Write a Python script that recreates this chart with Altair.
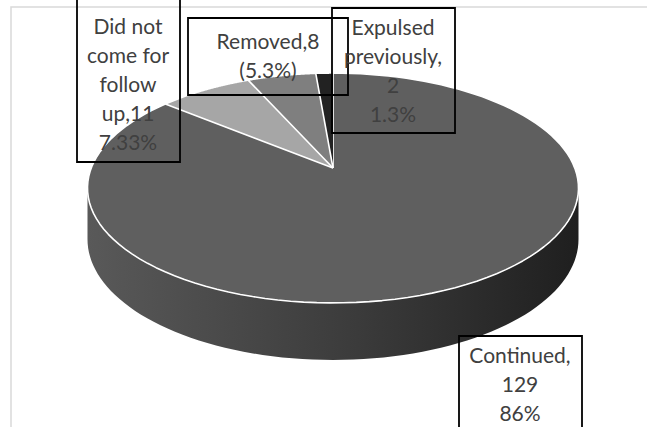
import altair as alt
import pandas as pd

# ---- data ----
categories = ["Continued", "Did not come for follow up", "Removed", "Expulsed previously"]
counts = [129, 11, 8, 2]
label_text = [
    "Continued,\n129\n86%",
    "Did not\ncome for\nfollow\nup,11\n7.33%",
    "Removed,8\n(5.3%)",
    "Expulsed\npreviously,\n2\n1.3%",
]

# ---- style / layout ----
top_colors = ["#5f5f5f", "#a6a6a6", "#7f7f7f", "#222222"]
W, H = 647, 427
CX, CY = 333, 168          # pixel position of the pie apex
F, D, C, S, HT = 1233.7, 5.103, 0.8875, 0.461, 0.239   # 3D projection params
STEPS = 120
# label boxes (x0, x1, y0, y1) and first-line centres in pixels
boxes = [(459, 582, 336, 445), (77, 180, -6, 162), (188, 348, 18, 95), (332, 455, 8, 133)]
text_pos = [(520, 357), (128, 28), (268, 43), (393, 29)]

pie_df = pd.DataFrame({"category": categories, "value": counts, "order": list(range(len(counts)))})

xs = alt.Scale(domain=[-CX, W - CX], nice=False, zero=False)
ys = alt.Scale(domain=[CY - H, CY], nice=False, zero=False)


def base_angles(chart):
    return (
        chart.transform_joinaggregate(total="sum(value)")
        .transform_window(cum="sum(value)", sort=[alt.SortField("order")], frame=[None, 0])
        .transform_calculate(
            t0="2*PI*(datum.cum - datum.value)/datum.total",
            t1="2*PI*datum.cum/datum.total",
        )
    )


# top surface
top = (
    base_angles(alt.Chart(pie_df))
    .transform_calculate(seq=f"sequence(-1, {STEPS + 1})")
    .transform_flatten(["seq"], as_=["k"])
    .transform_calculate(
        t=f"datum.t0 + (datum.t1 - datum.t0)*max(datum.k, 0)/{STEPS}",
    )
    .transform_calculate(
        px=f"datum.k < 0 ? 0 : {F}*sin(datum.t)/({D} + {C}*cos(datum.t))",
        py=f"datum.k < 0 ? 0 : {F}*{S}*cos(datum.t)/({D} + {C}*cos(datum.t))",
    )
    .mark_line(stroke="white", strokeWidth=1.6, strokeJoin="round")
    .encode(
        x=alt.X("px:Q", scale=xs, axis=None),
        y=alt.Y("py:Q", scale=ys, axis=None),
        order=alt.Order("k:Q"),
        detail="category:N",
        fill=alt.Fill("category:N", scale=alt.Scale(domain=categories, range=top_colors), legend=None),
    )
)

# visible side (front half)
grad = alt.Gradient(
    gradient="linear",
    stops=[
        alt.GradientStop(color="#595959", offset=0),
        alt.GradientStop(color="#3b3b3b", offset=0.55),
        alt.GradientStop(color="#1f1f1f", offset=1),
    ],
    x1=0, x2=1, y1=0, y2=0,
)
side = (
    base_angles(alt.Chart(pie_df))
    .transform_calculate(
        a="max(datum.t0, 100*PI/180)",
        b="min(datum.t1, 260*PI/180)",
    )
    .transform_filter("datum.a < datum.b")
    .transform_calculate(seq="sequence(0, 81)")
    .transform_flatten(["seq"], as_=["k"])
    .transform_calculate(t="datum.a + (datum.b - datum.a)*datum.k/80")
    .transform_calculate(
        px=f"{F}*sin(datum.t)/({D} + {C}*cos(datum.t))",
        ptop=f"{F}*{S}*cos(datum.t)/({D} + {C}*cos(datum.t))",
        pbot=f"{F}*(-{HT}*{C} + {S}*cos(datum.t))/({D} + {C}*cos(datum.t) + {HT}*{S})",
    )
    .mark_area(color=grad)
    .encode(
        x=alt.X("px:Q", scale=xs, axis=None),
        y=alt.Y("ptop:Q", scale=ys, axis=None),
        y2="pbot:Q",
        detail="category:N",
    )
)

# chart border
border = (
    alt.Chart(pd.DataFrame({"a": [0]}))
    .mark_rect(fillOpacity=0, stroke="#d9d9d9", strokeWidth=1.5)
    .encode(x=alt.value(11), x2=alt.value(700), y=alt.value(7), y2=alt.value(500))
)

lab_df = pd.DataFrame({
    "label": label_text,
    "bx0": [b[0] - CX for b in boxes],
    "bx1": [b[1] - CX for b in boxes],
    "by0": [CY - b[2] for b in boxes],
    "by1": [CY - b[3] for b in boxes],
    "tx": [p[0] - CX for p in text_pos],
    "ty": [CY - p[1] for p in text_pos],
})

box = (
    alt.Chart(lab_df)
    .mark_rect(fillOpacity=0, stroke="black", strokeWidth=1.8)
    .encode(
        x=alt.X("bx0:Q", scale=xs, axis=None), x2="bx1:Q",
        y=alt.Y("by0:Q", scale=ys, axis=None), y2="by1:Q",
    )
)

text = (
    alt.Chart(lab_df)
    .mark_text(font="Lato", fontSize=21, color="#404040", lineBreak="\n", lineHeight=29,
               align="center", baseline="middle")
    .encode(
        x=alt.X("tx:Q", scale=xs, axis=None),
        y=alt.Y("ty:Q", scale=ys, axis=None),
        text="label:N",
    )
)

chart = (
    alt.layer(border, side, top, box, text)
    .properties(width=W, height=H, autosize=alt.AutoSizeParams(type="none"), padding=0)
    .configure_view(stroke=None)
)

chart.save("out.html", embed_options={"renderer": "svg", "actions": False})
